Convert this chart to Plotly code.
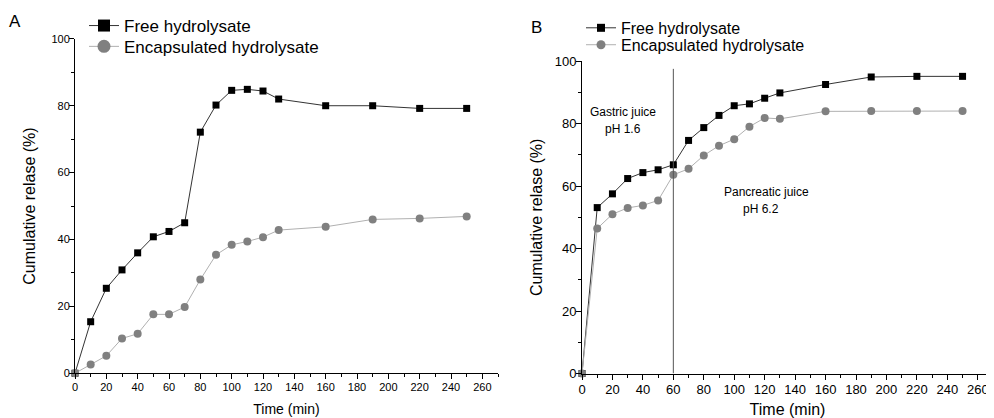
import plotly.graph_objects as go

time_min = [0, 10, 20, 30, 40, 50, 60, 70, 80, 90, 100, 110, 120, 130, 160, 190, 220, 250]

a_free = [0, 15.4, 25.4, 30.9, 36.0, 40.8, 42.4, 45.0, 72.1, 80.2, 84.6, 84.9, 84.4, 82.0, 80.0, 80.0, 79.2, 79.2]
a_encap = [0, 2.6, 5.2, 10.4, 11.8, 17.6, 17.6, 19.8, 28.0, 35.4, 38.4, 39.4, 40.7, 42.8, 43.8, 46.0, 46.3, 46.9]

b_free = [0, 53.1, 57.5, 62.4, 64.3, 65.2, 66.8, 74.6, 78.7, 82.6, 85.7, 86.3, 88.1, 89.8, 92.5, 94.9, 95.1, 95.1]
b_encap = [0, 46.4, 51.0, 53.0, 53.8, 55.4, 63.6, 65.5, 69.8, 72.9, 75.0, 79.0, 81.8, 81.5, 83.9, 84.0, 84.0, 84.0]

series_names = ["Free hydrolysate", "Encapsulated hydrolysate"]
phase_boundary = 60
phase_line_top = 97.5

FONT = "Arial, Liberation Sans, sans-serif"
fig = go.Figure()

def add_panel(xa, ya, free, encap, legs, msize, legsize):
    fig.add_trace(go.Scatter(x=time_min, y=free, mode="lines+markers", xaxis=xa, yaxis=ya,
                             line=dict(color="#333333", width=1),
                             marker=dict(symbol="square", size=msize, color="black"),
                             showlegend=False, cliponaxis=False))
    fig.add_trace(go.Scatter(x=time_min, y=encap, mode="lines+markers", xaxis=xa, yaxis=ya,
                             line=dict(color="#b0b0b0", width=1),
                             marker=dict(symbol="circle", size=msize + 1, color="#808080"),
                             showlegend=False, cliponaxis=False))
    fig.add_trace(go.Scatter(x=[None], y=[None], mode="lines+markers", xaxis=xa, yaxis=ya,
                             name=series_names[0], legend=legs[0],
                             line=dict(color="#333333", width=1),
                             marker=dict(symbol="square", size=legsize, color="black")))
    fig.add_trace(go.Scatter(x=[None], y=[None], mode="lines+markers", xaxis=xa, yaxis=ya,
                             name=series_names[1], legend=legs[1],
                             line=dict(color="#b0b0b0", width=1),
                             marker=dict(symbol="circle", size=legsize + 1, color="#808080")))

add_panel("x", "y", a_free, a_encap, ("legend", "legend3"), 7, 12)
add_panel("x2", "y2", b_free, b_encap, ("legend2", "legend4"), 7, 8)

fig.add_trace(go.Scatter(x=[phase_boundary, phase_boundary], y=[0, phase_line_top], mode="lines",
                         xaxis="x2", yaxis="y2", line=dict(color="#555555", width=1),
                         showlegend=False))

# page body has an 8px margin: figure occupies screen pixels 8..994 x 8..418
OFF = 8
W, H = 994 - OFF, 418 - OFF
def fx(px):
    return (px - OFF) / W
def fy(py):
    return (H - (py - OFF)) / H

axis_common = dict(showline=True, linecolor="black", linewidth=1, ticks="outside", ticklen=5,
                   tickcolor="black", showgrid=False, zeroline=False, mirror=False, automargin=False)
minor = dict(ticks="outside", dtick=10, ticklen=3, tickcolor="black")

def leg(xp, yp, size):
    return dict(x=fx(xp), y=fy(yp), xanchor="left", yanchor="middle", bgcolor="rgba(0,0,0,0)",
                font=dict(size=size), itemwidth=30)

def label(text, xp, yp, size):
    return dict(text=text, x=fx(xp), y=fy(yp), xref="paper", yref="paper", showarrow=False,
                xanchor="center", yanchor="middle", font=dict(size=size))

fig.update_layout(
    width=W, height=H, margin=dict(l=0, r=0, t=0, b=0),
    paper_bgcolor="white", plot_bgcolor="white",
    font=dict(family=FONT, color="black"),
    xaxis=dict(domain=[fx(75), fx(498)], range=[0, 270], dtick=20, anchor="y", minor=minor,
               ticklabelstandoff=-1,
               tickfont=dict(size=11), title=dict(text="Time (min)", font=dict(size=14), standoff=11),
               **axis_common),
    yaxis=dict(domain=[fy(373), fy(37)], range=[0, 100], dtick=20, anchor="x", minor=minor,
               ticklabelstandoff=-3,
               tickfont=dict(size=11), title=dict(text="Cumulative relase (%)", font=dict(size=16), standoff=11),
               **axis_common),
    xaxis2=dict(domain=[fx(582), fx(993)], range=[0, 270], dtick=20, anchor="y2", minor=minor,
                ticklabelstandoff=-1,
                tickfont=dict(size=13), title=dict(text="Time (min)", font=dict(size=16), standoff=12),
                **axis_common),
    yaxis2=dict(domain=[fy(373.3), fy(59.3)], range=[0, 100], dtick=20, anchor="x2", minor=minor,
                ticklabelstandoff=-3,
                tickfont=dict(size=13), title=dict(text="Cumulative relase (%)", font=dict(size=16), standoff=8),
                **axis_common),
    legend=leg(84, 24, 17),
    legend3=leg(84, 45, 17),
    legend2=leg(581, 26, 16),
    legend4=leg(581, 43, 16),
    annotations=[
        label("A", 15, 20, 17),
        label("B", 536, 26, 17),
        label("Gastric juice", 623, 110, 12),
        label("pH 1.6", 623, 128, 12),
        label("Pancreatic juice", 766, 191, 12),
        label("pH 6.2", 761, 208, 12),
    ],
)

fig.write_html("out.html")
